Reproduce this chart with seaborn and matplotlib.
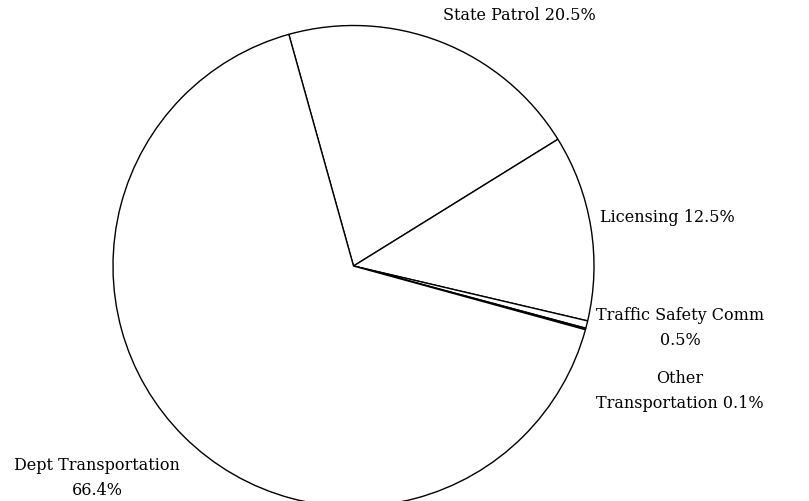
import matplotlib
matplotlib.use("Agg")
import matplotlib.pyplot as plt
import seaborn as sns

categories = ["State Patrol", "Licensing", "Traffic Safety Comm", "Other Transportation", "Dept Transportation"]
shares = [20.5, 12.5, 0.5, 0.1, 66.4]
label_texts = ["State Patrol 20.5%", "Licensing 12.5%", "Traffic Safety Comm\n0.5%",
               "Other\nTransportation 0.1%", "Dept Transportation\n66.4%"]

sns.set_theme(style="white")
plt.rcParams['font.family'] = ['DejaVu Serif', 'Liberation Serif']

W, H = 809, 501
R = 240.5
cx, cy = 353.5, 266
fig = plt.figure(figsize=(W / 100, H / 100), dpi=100)
ax = fig.add_axes([0, 0, 1, 1])
ax.pie(shares, startangle=105.6, counterclock=False, radius=1,
       colors=["white"] * len(shares),
       wedgeprops=dict(edgecolor="black", linewidth=1.0))
ax.set_xlim(-cx / R, (W - cx) / R)
ax.set_ylim(-(H - cy) / R, cy / R)
ax.set_aspect("auto")
ax.axis("off")

# label positions in pixel coords (centre), converted to data units
label_px = [(519, 15), (667, 218), (680, 328), (680, 391), (97, 478)]
for txt, (px, py) in zip(label_texts, label_px):
    ax.text((px - cx) / R, (cy - py) / R, txt, ha="center", va="center",
            fontsize=11.5, color="black", linespacing=1.55)

fig.savefig("out.png", dpi=100, facecolor="white")
